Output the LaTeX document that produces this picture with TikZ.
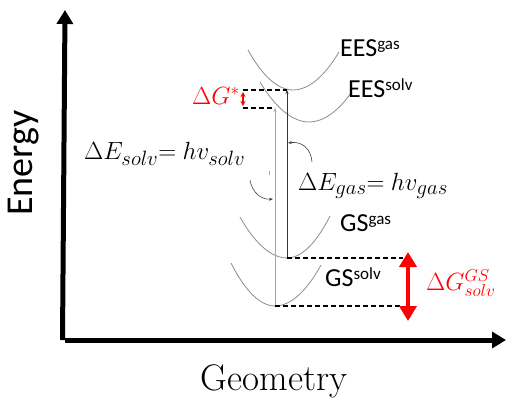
\documentclass[tikz,border=0pt]{standalone}
\usepackage{fontspec}
\setmainfont{Carlito}
\newfontfamily\lmserif{Latin Modern Roman}
\usetikzlibrary{arrows.meta}
\begin{document}
\begin{tikzpicture}[x=1pt,y=-1pt,
  curve/.style={draw=gray!90, line width=0.8pt},
  axis/.style={line width=5pt, -{Triangle[length=14pt,width=16pt]}},
  lvl/.style={dashed, line width=1.3pt, dash pattern=on 5pt off 3pt},
  vline/.style={line width=0.9pt, -{Stealth[length=4pt,width=3pt]}},
  bent/.style={draw=black!75, line width=0.6pt, -{Stealth[length=4pt,width=3pt]}},
  lab/.style={font=\fontsize{26}{30}\selectfont, inner sep=0pt},
  mth/.style={font=\fontsize{28}{32}\selectfont, inner sep=0pt}
]
\useasboundingbox (0,0) rectangle (506,400);
% axes
\coordinate (o) at (65,340);
\coordinate (ytop) at (65,10);
\coordinate (xend) at (506,340);
\draw[axis] (62.5,340) -- (ytop);
\draw[axis] (o) -- (xend);
\node[rotate=90, inner sep=0pt, font=\fontsize{38}{44}\selectfont] (energy) at (24,163) {Energy};
\node[inner sep=0pt, font=\lmserif\fontsize{37}{42}\selectfont] (geom) at (274,381) {Geometry};
% parabolas
\draw[curve] (248,50) parabola bend (293,90) (339,52);
\draw[curve] (260,82) parabola bend (309,122) (351,93);
\draw[curve] (240,217) parabola bend (287,258) (330,216);
\draw[curve] (231,263) parabola bend (275,306) (321,265);
% level coordinates
\coordinate (eg) at (287,90);
\coordinate (es) at (275,108);
\coordinate (gg) at (287,258);
\coordinate (gs) at (275,306);
\coordinate (eL) at (243,90);
\coordinate (esL) at (243,108);
\coordinate (ggR) at (403,258);
\coordinate (gsR) at (400,306);
% vertical transitions
\draw[vline, draw=black!80] (gg) -- (eg);
\draw[vline, draw=gray!70] (gs) -- (es);
% dashed levels
\draw[lvl] (eL) -- (eg);
\draw[lvl] (esL) -- (es);
\draw[lvl] (gg) -- (ggR);
\draw[lvl] (gs) -- (gsR);
% red arrows
\coordinate (ra1) at (243,92);
\coordinate (ra2) at (243,106);
\draw[red, line width=1.5pt, {Stealth[length=5pt,width=5pt]}-{Stealth[length=5pt,width=5pt]}] (ra1) -- (ra2);
\coordinate (rb1) at (408,252);
\coordinate (rb2) at (408,321);
\draw[red, line width=4.5pt, {Triangle[length=15pt,width=17pt]}-{Triangle[length=15pt,width=17pt]}] (rb1) -- (rb2);
% curved pointers
\coordinate (c1s) at (312,162);
\coordinate (c1e) at (288,143);
\draw[bent] (c1s) .. controls (311,148) and (301,141) .. (c1e);
\coordinate (c2s) at (250,180);
\coordinate (c2e) at (273,199);
\draw[bent] (c2s) .. controls (252,193) and (262,200) .. (c2e);
\coordinate (t1) at (269,171);
\coordinate (t2) at (269,175);
\draw[blue!40, line width=0.8pt] (t1) -- (t2);
% labels
\node[lab, anchor=west] (eesg) at (340,48) {EES\raisebox{7pt}{\fontsize{17}{19}\selectfont gas}};
\node[lab, anchor=west] (eess) at (348,88) {EES\raisebox{7pt}{\fontsize{17}{19}\selectfont solv}};
\node[lab, anchor=west] (gsg) at (340,223) {GS\raisebox{7pt}{\fontsize{17}{19}\selectfont gas}};
\node[lab, anchor=west] (gss) at (325,277) {GS\raisebox{7pt}{\fontsize{17}{19}\selectfont solv}};
\node[mth, anchor=west] (desolv) at (84,154) {$\Delta E_{solv}{=}\ hv_{solv}$};
\node[mth, anchor=west] (degas) at (298,186) {$\Delta E_{gas}{=}\ hv_{gas}$};
\node[mth, anchor=west, text=red, font=\fontsize{23}{28}\selectfont] (dgstar) at (192,96) {$\Delta G^{*}$};
\node[mth, anchor=west, text=red, font=\fontsize{25}{30}\selectfont] (dggs) at (426,283) {$\Delta G^{GS}_{solv}$};
\end{tikzpicture}
\end{document}
